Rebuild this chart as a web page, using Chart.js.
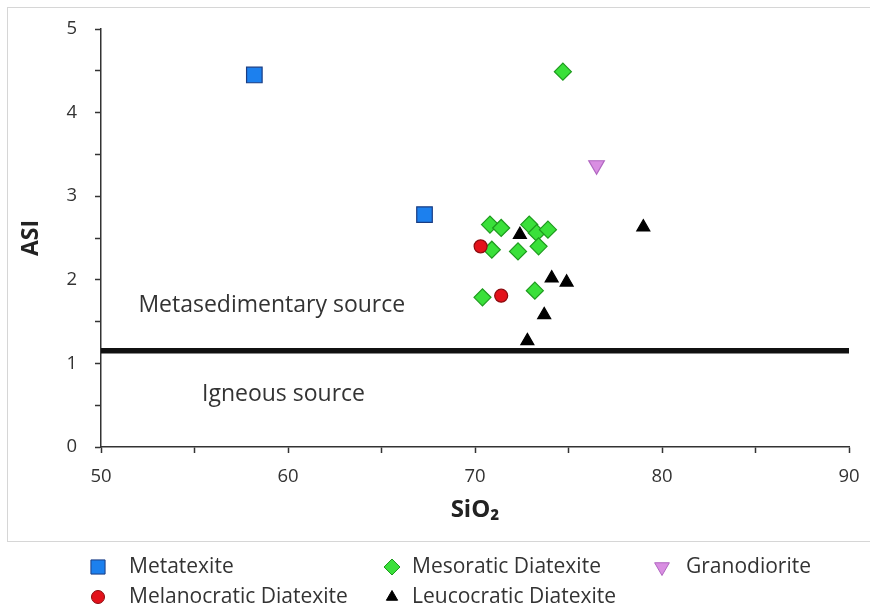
<!DOCTYPE html>
<html>
<head>
<meta charset="utf-8">
<script src="https://cdn.jsdelivr.net/npm/chart.js@4.4.1/dist/chart.umd.min.js"></script>
<style>
  html, body { margin: 0; padding: 0; background: #ffffff; }
  #wrap { position: relative; width: 870px; height: 610px; }
</style>
</head>
<body>
<div id="wrap"><canvas id="c" width="870" height="610"></canvas></div>
<script>
// ASI (aluminium saturation index) against SiO2 for each rock type
const seriesNames = ['Metatexite', 'Melanocratic Diatexite', 'Mesoratic Diatexite', 'Leucocratic Diatexite', 'Granodiorite'];

const metatexiteSiO2 = [58.2, 67.3];
const metatexiteASI = [4.45, 2.78];

const melanocraticSiO2 = [70.3, 71.4];
const melanocraticASI = [2.40, 1.81];

const mesoraticSiO2 = [74.7, 70.8, 71.4, 72.9, 73.3, 73.9, 70.9, 72.3, 73.4, 70.4, 73.2];
const mesoraticASI = [4.49, 2.66, 2.62, 2.66, 2.56, 2.60, 2.36, 2.34, 2.40, 1.79, 1.87];

const leucocraticSiO2 = [72.4, 74.1, 74.9, 73.7, 72.8, 79.0];
const leucocraticASI = [2.54, 2.02, 1.97, 1.58, 1.27, 2.63];

const granodioriteSiO2 = [76.5];
const granodioriteASI = [3.37];

// source boundary
const boundarySiO2 = [50, 90];
const boundaryASI = [1.15, 1.15];

// labelled ticks
const xTickLabels = [50, 60, 70, 80, 90];
const yTickLabels = [0, 1, 2, 3, 4, 5];

// field names and their anchor points (SiO2, ASI)
const regionLabels = ['Metasedimentary source', 'Igneous source'];
const regionSiO2 = [52.0, 55.4];
const regionASI = [1.69, 0.63];

const FONT = "'Open Sans', 'Noto Sans', sans-serif";

// marker appearance per series, same order as seriesNames
const markerStyles = [
  { pointStyle: 'rect',     rotation: 0,   radius: 11,  fill: '#1c80ee', stroke: '#1a3c82', legendRadius: 10 },
  { pointStyle: 'circle',   rotation: 0,   radius: 6.5, fill: '#e3121b', stroke: '#8c0c10', legendRadius: 6.5 },
  { pointStyle: 'rectRot',  rotation: 0,   radius: 8.5, fill: '#3ae03a', stroke: '#1d9a1d', legendRadius: 8 },
  { pointStyle: 'triangle', rotation: 0,   radius: 7.5, fill: '#000000', stroke: '#000000', legendRadius: 6.5 },
  { pointStyle: 'triangle', rotation: 180, radius: 9,   fill: '#d98ee2', stroke: '#b066c0', legendRadius: 8.5 }
];

function toPoints(xs, ys) {
  return xs.map((x, i) => ({ x: x, y: ys[i] }));
}

const seriesPoints = [
  toPoints(metatexiteSiO2, metatexiteASI),
  toPoints(melanocraticSiO2, melanocraticASI),
  toPoints(mesoraticSiO2, mesoraticASI),
  toPoints(leucocraticSiO2, leucocraticASI),
  toPoints(granodioriteSiO2, granodioriteASI)
];

const datasets = seriesNames.map((name, i) => ({
  label: name,
  data: seriesPoints[i],
  pointStyle: markerStyles[i].pointStyle,
  rotation: markerStyles[i].rotation,
  pointRadius: markerStyles[i].radius,
  pointBackgroundColor: markerStyles[i].fill,
  pointBorderColor: markerStyles[i].stroke,
  pointBorderWidth: 1.2,
  showLine: false,
  order: 1
}));

datasets.push({
  label: 'boundary',
  data: toPoints(boundarySiO2, boundaryASI),
  showLine: true,
  borderColor: '#111111',
  borderWidth: 5.5,
  pointRadius: 0,
  order: 10
});

// outer frame, field names and legend
const decorations = {
  id: 'decorations',
  beforeDraw(chart) {
    const ctx = chart.ctx;
    ctx.save();
    ctx.fillStyle = '#ffffff';
    ctx.fillRect(0, 0, chart.width, chart.height);
    ctx.strokeStyle = '#d6d6d6';
    ctx.lineWidth = 1;
    ctx.strokeRect(7.5, 7.5, 870, 534);
    ctx.restore();
  },
  beforeDatasetsDraw(chart) {
    const ctx = chart.ctx;
    const xs = chart.scales.x, ys = chart.scales.y;
    ctx.save();
    ctx.fillStyle = '#333333';
    ctx.font = "23px " + FONT;
    ctx.textAlign = 'left';
    ctx.textBaseline = 'middle';
    regionLabels.forEach((t, i) => {
      ctx.fillText(t, xs.getPixelForValue(regionSiO2[i]), ys.getPixelForValue(regionASI[i]));
    });
    ctx.restore();
  },
  afterDraw(chart) {
    const ctx = chart.ctx;
    const markerX = [98, 392, 662];
    const textX = [129, 412, 686];
    const rowY = [567, 597];
    ctx.save();
    seriesNames.forEach((name, i) => {
      const col = Math.floor(i / 2), row = i % 2;
      const st = markerStyles[i];
      ctx.fillStyle = st.fill;
      ctx.strokeStyle = st.stroke;
      ctx.lineWidth = 1;
      Chart.helpers.drawPoint(ctx, {
        pointStyle: st.pointStyle,
        rotation: st.rotation,
        radius: st.legendRadius,
        borderWidth: 1
      }, markerX[col], rowY[row]);
      ctx.fillStyle = '#333333';
      ctx.font = "21px " + FONT;
      ctx.textAlign = 'left';
      ctx.textBaseline = 'middle';
      ctx.fillText(name, textX[col], rowY[row]);
    });
    ctx.restore();
  }
};

function build() {
  new Chart(document.getElementById('c'), {
    type: 'scatter',
    data: { datasets: datasets },
    plugins: [decorations],
    options: {
      responsive: false,
      animation: false,
      events: [],
      layout: { padding: { top: 29, right: 21, bottom: 67, left: 0 } },
      plugins: { legend: { display: false }, tooltip: { enabled: false } },
      scales: {
        x: {
          type: 'linear',
          min: 50,
          max: 90,
          ticks: {
            stepSize: 5,
            autoSkip: false,
            maxRotation: 0,
            color: '#333333',
            padding: 13,
            font: { family: FONT, size: 18.5 },
            callback: v => (xTickLabels.includes(v) ? String(v) : '')
          },
          grid: { drawOnChartArea: false, drawTicks: true, tickLength: 6, tickColor: '#333333', tickWidth: 1.5 },
          border: { color: '#333333', width: 1.5 },
          title: {
            display: true,
            text: 'SiO₂',
            color: '#222222',
            font: { family: FONT, size: 24, weight: 'bold' },
            padding: { top: 0, bottom: 18 }
          },
          afterFit(s) { s.height = 96; s.paddingLeft = 0; s.paddingRight = 0; }
        },
        y: {
          type: 'linear',
          min: 0,
          max: 5,
          ticks: {
            stepSize: 0.5,
            autoSkip: false,
            color: '#333333',
            padding: 18,
            font: { family: FONT, size: 18.5 },
            callback: v => (yTickLabels.includes(v) ? String(v) : '')
          },
          grid: { drawOnChartArea: false, drawTicks: true, tickLength: 6, tickColor: '#333333', tickWidth: 1.5 },
          border: { color: '#333333', width: 1.5 },
          title: {
            display: true,
            text: 'ASI',
            color: '#222222',
            font: { family: FONT, size: 23, weight: 'bold' },
            padding: { top: 18, bottom: 0 }
          },
          afterFit(s) { s.width = 101; s.paddingTop = 0; s.paddingBottom = 0; }
        }
      }
    }
  });
}

if (document.fonts && document.fonts.load) {
  Promise.all([
    document.fonts.load("17px 'Open Sans'"),
    document.fonts.load("bold 22px 'Open Sans'")
  ]).then(build, build);
} else {
  build();
}
</script>
</body>
</html>
